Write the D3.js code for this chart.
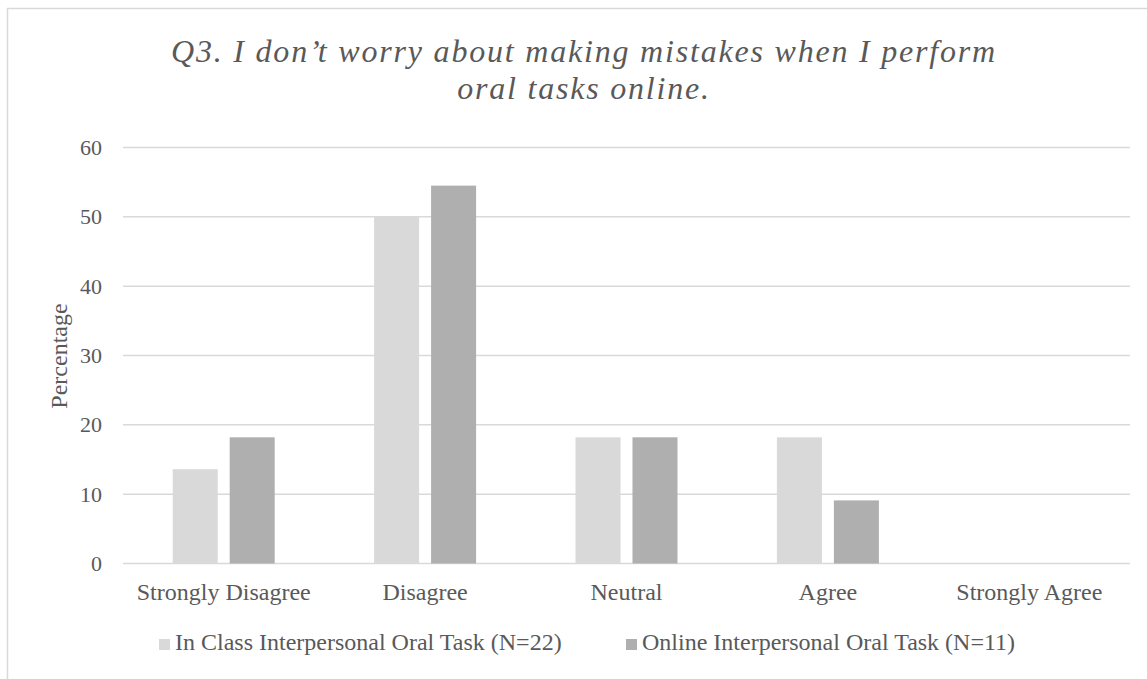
<!DOCTYPE html>
<html>
  <head>
    <title>Q3 Bar Chart</title>
    <script src="https://d3js.org/d3.v7.min.js"></script>
    <style>
      body { margin: 0; background: #fff; }
      text { font-family: "Liberation Serif", "Times New Roman", serif; fill: #595959; }
    </style>
  </head>
  <body>
    <svg width="1147" height="679"></svg>
    <script>
      // Data
      const categories = ["Strongly Disagree", "Disagree", "Neutral", "Agree", "Strongly Agree"];
      const seriesNames = ["In Class Interpersonal Oral Task (N=22)", "Online Interpersonal Oral Task (N=11)"];
      const inClass = [13.6, 50, 18.2, 18.2, 0];
      const online = [18.2, 54.5, 18.2, 9.1, 0];
      const yTicks = [0, 10, 20, 30, 40, 50, 60];
      const titleLines = ["Q3. I don\u2019t worry about making mistakes when I perform", "oral tasks online."];
      const colors = ["#d9d9d9", "#afafaf"];

      const svg = d3.select("svg");

      // outer frame
      svg.append("rect")
        .attr("x", 7.5).attr("y", 8.5)
        .attr("width", 1160).attr("height", 700)
        .attr("fill", "none").attr("stroke", "#d9d9d9").attr("stroke-width", 1.5);

      // scales
      const x = d3.scaleBand().domain(categories).range([123, 1130]).padding(0);
      const groupW = 102;
      const x1 = d3.scaleBand().domain(seriesNames)
        .range([x.bandwidth() / 2 - groupW / 2, x.bandwidth() / 2 + groupW / 2])
        .paddingInner(0.21).paddingOuter(0);
      const y = d3.scaleLinear().domain([0, 60]).range([563.5, 147.5]);

      // gridlines
      svg.append("g")
        .selectAll("line")
        .data(yTicks)
        .join("line")
        .attr("x1", 123).attr("x2", 1130)
        .attr("y1", d => y(d)).attr("y2", d => y(d))
        .attr("stroke", "#d9d9d9").attr("stroke-width", 1.5);

      // y axis labels
      const yAxis = d3.axisLeft(y).tickValues(yTicks).tickSize(0).tickPadding(21);
      const gy = svg.append("g").attr("transform", "translate(123,0)").call(yAxis);
      gy.select(".domain").remove();
      gy.selectAll("text").style("font-size", "22px").attr("fill", "#595959")
        .style("font-family", "'Liberation Serif', serif");

      // bars
      const rows = categories.map((c, i) => ({ c, vals: [inClass[i], online[i]] }));
      const groups = svg.append("g").selectAll("g")
        .data(rows).join("g")
        .attr("transform", d => `translate(${x(d.c)},0)`);
      groups.selectAll("rect")
        .data(d => d.vals.map((v, j) => ({ s: seriesNames[j], v, j })))
        .join("rect")
        .attr("x", d => x1(d.s))
        .attr("width", x1.bandwidth())
        .attr("y", d => y(d.v))
        .attr("height", d => y(0) - y(d.v))
        .attr("fill", d => colors[d.j]);

      // x axis labels
      const xAxis = d3.axisBottom(x).tickSize(0).tickPadding(19);
      const gx = svg.append("g").attr("transform", "translate(0,563.5)").call(xAxis);
      gx.select(".domain").remove();
      gx.selectAll("text").style("font-size", "24px").attr("fill", "#595959")
        .style("font-family", "'Liberation Serif', serif");

      // y axis title
      svg.append("text")
        .attr("transform", "translate(67,356) rotate(-90)")
        .attr("text-anchor", "middle")
        .style("font-size", "24px")
        .text("Percentage");

      // chart title
      svg.append("g").selectAll("text")
        .data(titleLines).join("text")
        .attr("x", 584)
        .attr("y", (d, i) => 62 + i * 37)
        .attr("text-anchor", "middle")
        .style("font-size", "32px")
        .style("font-style", "italic")
        .style("letter-spacing", "1.8px")
        .text(d => d);

      // legend
      const legendX = [159, 626];
      const leg = svg.append("g").selectAll("g")
        .data(seriesNames).join("g")
        .attr("transform", (d, i) => `translate(${legendX[i]},639)`);
      leg.append("rect").attr("width", 11).attr("height", 11).attr("fill", (d, i) => colors[i]);
      leg.append("text").attr("x", 16).attr("y", 11)
        .style("font-size", "24px")
        .text(d => d);
    </script>
  </body>
</html>
